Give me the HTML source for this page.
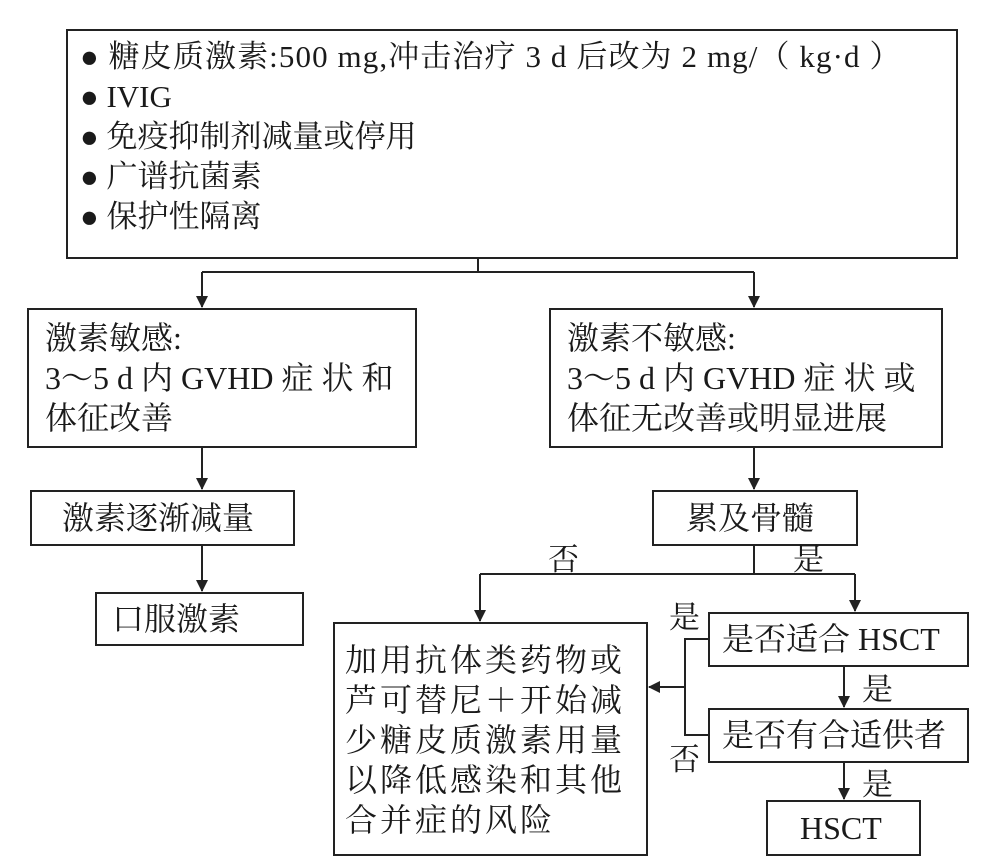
<!DOCTYPE html>
<html><head><meta charset="utf-8"><style>
body{margin:0;width:1000px;height:868px;background:#fff;position:relative;overflow:hidden;font-family:"Liberation Serif","Noto Serif CJK SC",serif;color:#1a1a1a}
.b{position:absolute;border:2px solid #222;box-sizing:border-box;background:#fff}
.t{position:absolute;font-size:32px;line-height:38px;white-space:nowrap}
.l{position:absolute;font-size:31px;line-height:30px}
svg{position:absolute;left:0;top:0}
</style></head><body>
<div class="b" style="left:66px;top:29px;width:892px;height:230px"></div>
<div class="t" style="left:80px;top:37px;line-height:40px;font-size:31px"><span style="letter-spacing:1.1px">● 糖皮质激素:500 mg,冲击治疗 3 d 后改为 2 mg/（ kg·d ）</span><br>● IVIG<br>● 免疫抑制剂减量或停用<br>● 广谱抗菌素<br>● 保护性隔离</div>

<div class="b" style="left:27px;top:308px;width:390px;height:140px"></div>
<div class="t" style="left:45px;top:318px;line-height:40px">激素敏感:<br>3～5 d 内 GVHD 症 状 和<br>体征改善</div>
<div class="b" style="left:549px;top:308px;width:394px;height:140px"></div>
<div class="t" style="left:567px;top:318px;line-height:40px">激素不敏感:<br>3～5 d 内 GVHD 症 状 或<br>体征无改善或明显进展</div>

<div class="b" style="left:30px;top:490px;width:265px;height:56px"></div>
<div class="t" style="left:62px;top:499px">激素逐渐减量</div>
<div class="b" style="left:95px;top:592px;width:209px;height:54px"></div>
<div class="t" style="left:112px;top:600px">口服激素</div>

<div class="b" style="left:652px;top:490px;width:206px;height:56px"></div>
<div class="t" style="left:686px;top:499px">累及骨髓</div>

<div class="b" style="left:333px;top:622px;width:315px;height:234px"></div>
<div class="t" style="left:345px;top:640px;line-height:40px;letter-spacing:3px">加用抗体类药物或<br>芦可替尼＋开始减<br>少糖皮质激素用量<br>以降低感染和其他<br>合并症的风险</div>

<div class="b" style="left:708px;top:612px;width:261px;height:55px"></div>
<div class="t" style="left:722px;top:620px">是否适合 HSCT</div>
<div class="b" style="left:708px;top:708px;width:261px;height:55px"></div>
<div class="t" style="left:722px;top:716px">是否有合适供者</div>
<div class="b" style="left:766px;top:800px;width:155px;height:56px"></div>
<div class="t" style="left:800px;top:809px">HSCT</div>

<div class="l" style="left:548px;top:545px">否</div>
<div class="l" style="left:793px;top:545px">是</div>
<div class="l" style="left:669px;top:603px">是</div>
<div class="l" style="left:669px;top:745px">否</div>
<div class="l" style="left:862px;top:675px">是</div>
<div class="l" style="left:862px;top:770px">是</div>

<svg width="1000" height="868">
<defs><marker id="a" markerWidth="12" markerHeight="12" refX="11" refY="6" orient="auto" markerUnits="userSpaceOnUse"><path d="M0,0 L12,6 L0,12 z" fill="#222"/></marker></defs>
<g stroke="#222" stroke-width="2" fill="none">
<line x1="478" y1="259" x2="478" y2="272"/>
<line x1="202" y1="272" x2="754" y2="272"/>
<line x1="202" y1="272" x2="202" y2="307" marker-end="url(#a)"/>
<line x1="754" y1="272" x2="754" y2="307" marker-end="url(#a)"/>
<line x1="202" y1="448" x2="202" y2="489" marker-end="url(#a)"/>
<line x1="202" y1="546" x2="202" y2="591" marker-end="url(#a)"/>
<line x1="754" y1="448" x2="754" y2="489" marker-end="url(#a)"/>
<line x1="754" y1="546" x2="754" y2="574"/>
<line x1="480" y1="574" x2="855" y2="574"/>
<line x1="480" y1="574" x2="480" y2="621" marker-end="url(#a)"/>
<line x1="855" y1="574" x2="855" y2="611" marker-end="url(#a)"/>
<line x1="844" y1="667" x2="844" y2="707" marker-end="url(#a)"/>
<line x1="844" y1="763" x2="844" y2="799" marker-end="url(#a)"/>
<polyline points="708,639 685,639 685,735 708,735"/>
<line x1="685" y1="687" x2="649" y2="687" marker-end="url(#a)"/>
</g></svg>
</body></html>
